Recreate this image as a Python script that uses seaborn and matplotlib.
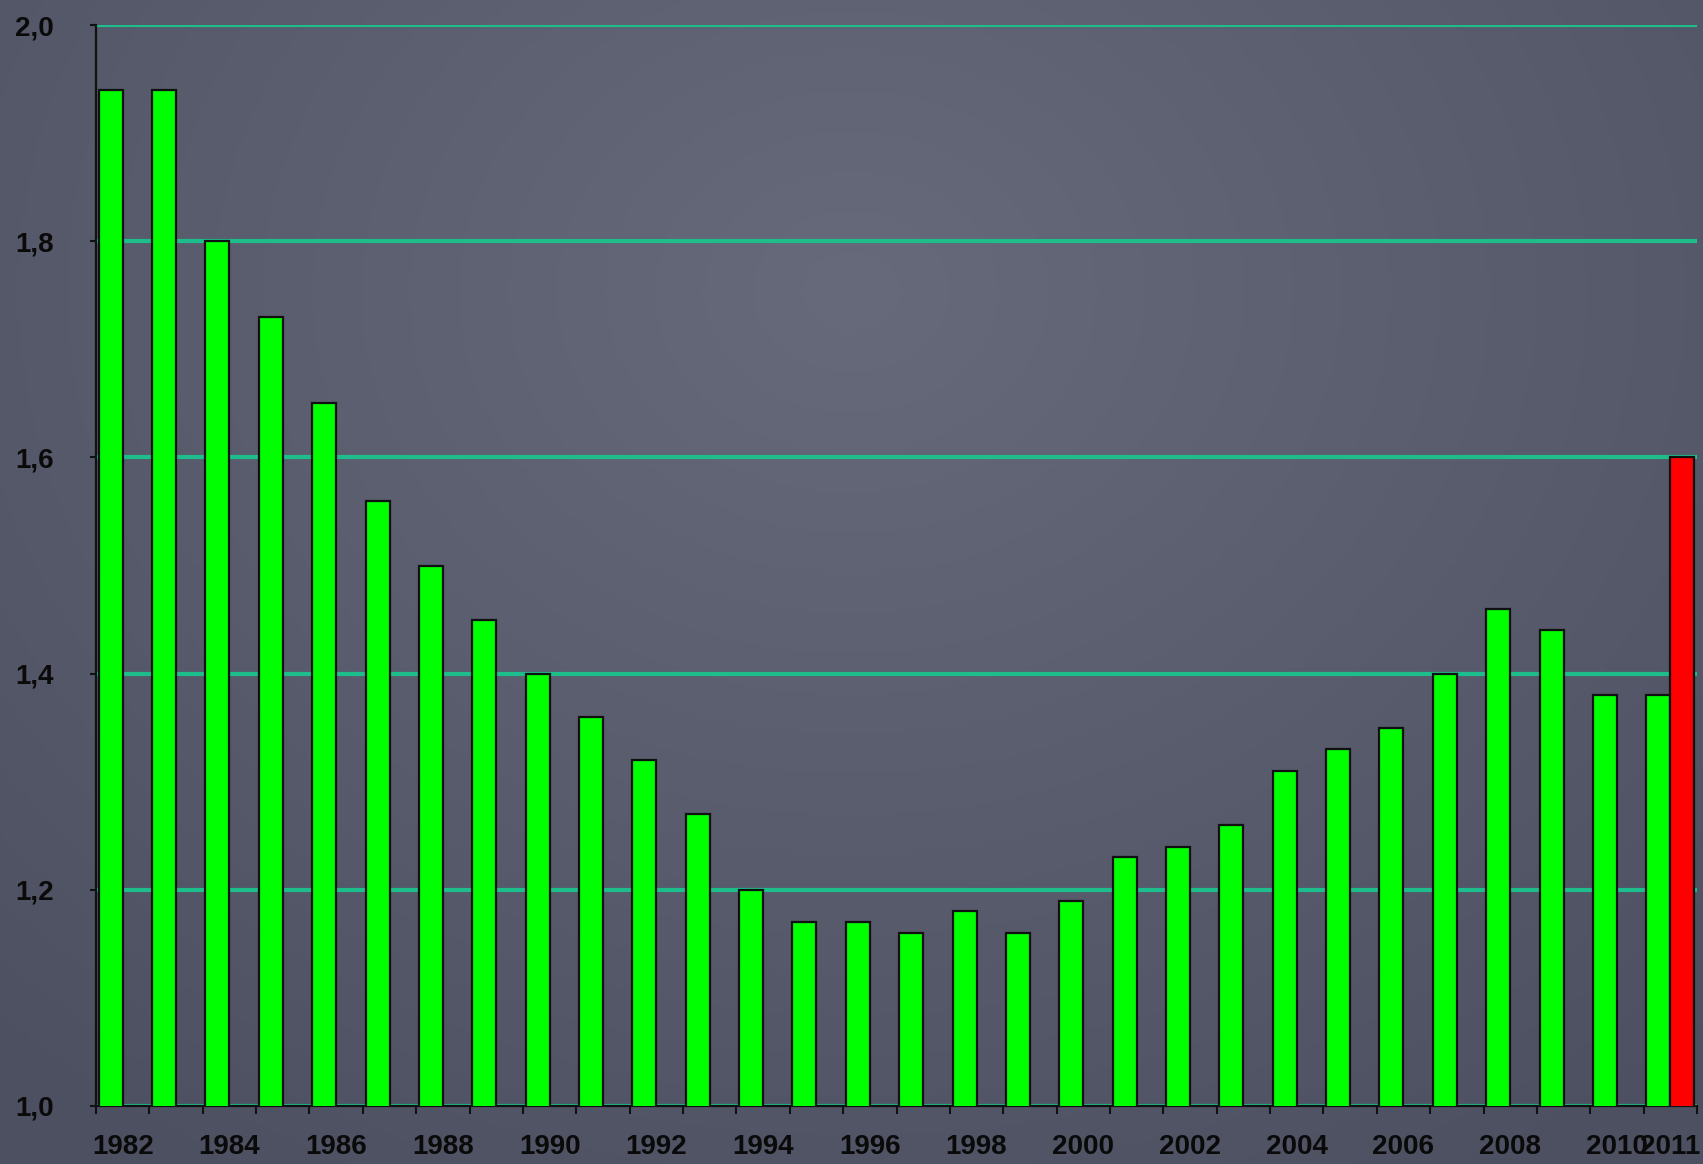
import numpy as np
import pandas as pd
import matplotlib
matplotlib.use("Agg")
import matplotlib.pyplot as plt
from matplotlib.ticker import FixedLocator, FuncFormatter
import seaborn as sns

years = [str(y) for y in range(1982, 2012)]
main_values = [1.94, 1.94, 1.80, 1.73, 1.65, 1.56, 1.50, 1.45, 1.40, 1.36,
               1.32, 1.27, 1.20, 1.17, 1.17, 1.16, 1.18, 1.16, 1.19, 1.23,
               1.24, 1.26, 1.31, 1.33, 1.35, 1.40, 1.46, 1.44, 1.38, 1.38]
red_year = ["2011"]
red_values = [1.60]
shown_labels = [str(y) for y in range(1982, 2011, 2)] + ["2011"]
y_ticks = [1.0, 1.2, 1.4, 1.6, 1.8, 2.0]

df = pd.concat([
    pd.DataFrame({"year": years, "value": main_values, "series": "main"}),
    pd.DataFrame({"year": red_year, "value": red_values, "series": "red"}),
], ignore_index=True)

sns.set_theme(style="white")
plt.rcParams["font.family"] = ["Liberation Sans", "DejaVu Sans"]

W, H, DPI = 1703, 1164, 100
fig = plt.figure(figsize=(W / DPI, H / DPI), dpi=DPI)

# slate-like background (smooth radial gradient)
bg_ax = fig.add_axes([0, 0, 1, 1], zorder=-10)
yy, xx = np.mgrid[0:1:300j, 0:1:400j]
r = np.sqrt(((xx - 0.5) / 0.75) ** 2 + ((yy - 0.25) / 0.9) ** 2)
t = np.clip(r, 0, 1)[..., None]
c_center = np.array([102, 106, 122]) / 255
c_edge = np.array([76, 80, 96]) / 255
img = c_center * (1 - t) + c_edge * t
bg_ax.imshow(img, aspect="auto", extent=[0, 1, 0, 1], origin="upper")
bg_ax.axis("off")

ax = fig.add_axes([96 / W, 1 - 1106 / H, (1697 - 96) / W, (1106 - 25) / H])
ax.set_facecolor("none")

sns.barplot(data=df, x="year", y="value", hue="series", order=years,
            hue_order=["main", "red"], palette={"main": "#00ff00", "red": "#ff0000"},
            width=0.9, dodge=True, edgecolor="#101010", linewidth=1.6,
            saturation=1, errorbar=None, legend=False, ax=ax, zorder=3)

ax.set_ylim(1.0, 2.0)
ax.set_xlim(-0.5, len(years) - 0.5)
ax.set_yticks(y_ticks)
ax.yaxis.set_major_formatter(FuncFormatter(lambda v, p: f"{v:.1f}".replace(".", ",")))
ax.yaxis.grid(True, color="#1ebe8c", linewidth=3)
ax.xaxis.grid(False)
ax.set_axisbelow(True)

labels = [y if y in shown_labels else "" for y in years]
ax.set_xticks(range(len(years)))
ax.set_xticklabels(labels)
ax.xaxis.set_minor_locator(FixedLocator([i - 0.5 for i in range(len(years) + 1)]))
ax.tick_params(axis="x", which="major", length=0, pad=20, labelsize=20)
ax.tick_params(axis="x", which="minor", length=6, width=1.5, color="#111111", bottom=True)
ax.tick_params(axis="y", which="major", length=4, width=1.5, color="#111111",
               labelsize=20, left=True, pad=54)
for lab in ax.get_xticklabels() + ax.get_yticklabels():
    lab.set_fontweight("bold")
    lab.set_color("#0a0a0a")
for lab in ax.get_yticklabels():
    lab.set_horizontalalignment("left")

ax.set_xlabel("")
ax.set_ylabel("")
for side in ["top", "right"]:
    ax.spines[side].set_visible(False)
for side in ["left", "bottom"]:
    ax.spines[side].set_visible(True)
    ax.spines[side].set_color("#111111")
    ax.spines[side].set_linewidth(1.6)

fig.savefig("out.png", dpi=DPI)
